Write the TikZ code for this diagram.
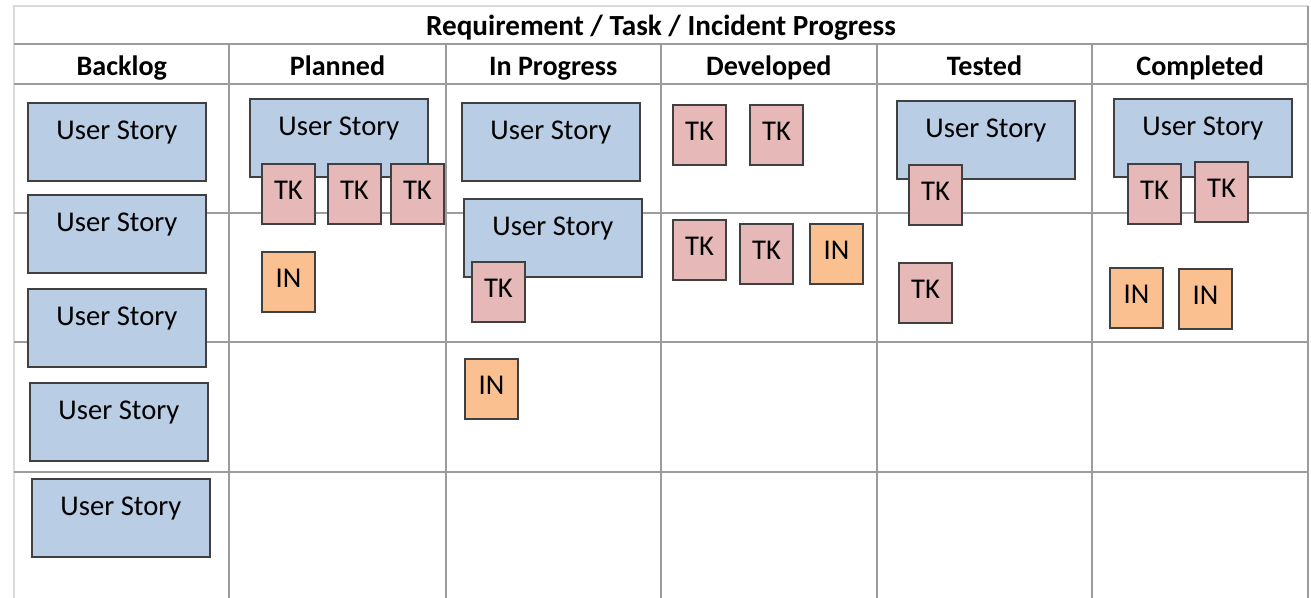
\documentclass[tikz,border=0pt]{standalone}
\usepackage{fontspec}
\setmainfont{Carlito}
\usepackage{xcolor}
\definecolor{storyblue}{HTML}{B9CDE5}
\definecolor{taskred}{HTML}{E6B9B8}
\definecolor{incorange}{HTML}{FAC090}
\definecolor{cardline}{HTML}{404040}
\definecolor{gridgray}{HTML}{9C9C9C}
\definecolor{edgegray}{HTML}{DADADA}

\begin{document}
\begin{tikzpicture}[x=0.02cm, y=-0.02cm,
    gridline/.style={gridgray, line width=1.1pt},
    edgeline/.style={edgegray, line width=1.1pt},
    head/.style={font=\bfseries\fontsize{16}{19}\selectfont, anchor=base},
    card/.style={draw=cardline, line width=1.1pt, inner sep=0pt, anchor=north west, font=\fontsize{16.3}{19}\selectfont},
    story/.style={card, fill=storyblue, minimum width=3.56cm, text height=0.74cm, text depth=0.82cm},
    task/.style={card, fill=taskred, minimum width=1.06cm, text height=0.72cm, text depth=0.48cm},
    incident/.style={task, fill=incorange}]
    \useasboundingbox (0,0) rectangle (1311,598);

    % table
    \draw[edgeline] (14,598) -- (14,6) -- (1308,6);
    \draw[gridline] (1308,6) -- (1308,598);
    \foreach \y in {44,84,213,342,472}
        \draw[gridline] (14,\y) -- (1308,\y);
    \foreach \x in {229,446,661,877,1092}
        \draw[gridline] (\x,44) -- (\x,598);

    \node[head, font=\bfseries\fontsize{16.6}{19}\selectfont] (title) at (661,36) {Requirement / Task / Incident Progress};
    \foreach \name [count=\i] in {Backlog,Planned,In Progress,Developed,Tested,Completed}
        \node[head] (h\i) at ({14+215.67*(\i-0.5)},76) {\name};

    % backlog
    \node[story] (bl1) at (27,102) {User Story};
    \node[story] (bl2) at (27,194) {User Story};
    \node[story] (bl3) at (27,288) {User Story};
    \node[story] (bl4) at (29,382) {User Story};
    \node[story] (bl5) at (31,478) {User Story};

    % planned
    \node[story] (pl-us) at (249,98) {User Story};
    \node[task] (pl-tk1) at (261,163) {TK};
    \node[task] (pl-tk2) at (327,163) {TK};
    \node[task] (pl-tk3) at (390,163) {TK};
    \node[incident] (pl-in) at (261,251) {IN};

    % in progress
    \node[story] (ip-us1) at (461,102) {User Story};
    \node[story] (ip-us2) at (463,198) {User Story};
    \node[task] (ip-tk) at (471,261) {TK};
    \node[incident] (ip-in) at (464,358) {IN};

    % developed
    \node[task] (dv-tk1) at (672,104) {TK};
    \node[task] (dv-tk2) at (749,104) {TK};
    \node[task] (dv-tk3) at (672,219) {TK};
    \node[task] (dv-tk4) at (739,223) {TK};
    \node[incident] (dv-in) at (809,223) {IN};

    % tested
    \node[story] (ts-us) at (896,100) {User Story};
    \node[task] (ts-tk1) at (908,164) {TK};
    \node[task] (ts-tk2) at (898,262) {TK};

    % completed
    \node[story] (cp-us) at (1113,98) {User Story};
    \node[task] (cp-tk1) at (1127,163) {TK};
    \node[task] (cp-tk2) at (1194,161) {TK};
    \node[incident] (cp-in1) at (1109,267) {IN};
    \node[incident] (cp-in2) at (1178,268) {IN};
\end{tikzpicture}
\end{document}
